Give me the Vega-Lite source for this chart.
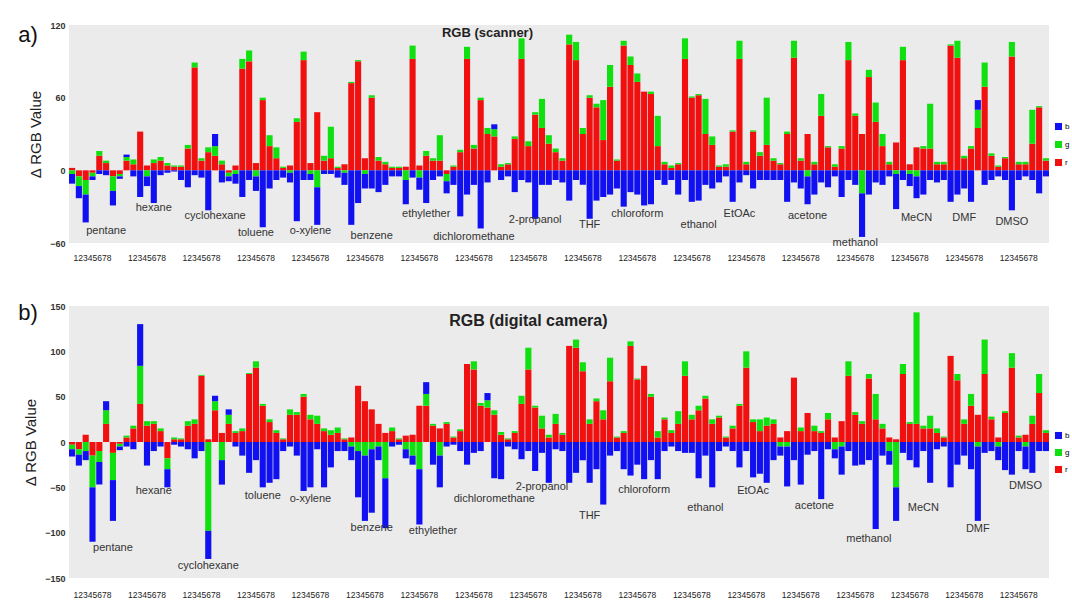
{
"$schema":"https://vega.github.io/schema/vega-lite/v6.json",
"padding":{"left":18,"top":21,"right":0,"bottom":0},
"background":"white",
"spacing":40,
"config":{"view":{"fill":"#ebebeb","stroke":null},"font":"Liberation Sans",
 "axisY":{"domain":false,"ticks":false,"grid":false,"labelFontSize":9,"labelFontWeight":"bold","labelColor":"#333","labelPadding":4,"titleFontSize":15,"titleFontWeight":"normal","titleColor":"#222","titlePadding":6},
 "axisX":{"domain":false,"ticks":false,"grid":false,"labelFontSize":8.5,"labelColor":"#222","labelAngle":0,"labelOverlap":false,"labelDx":3.4,"title":null}},
"resolve":{"scale":{"y":"independent","color":"independent"},"legend":{"color":"independent"}},
"datasets":{
"a":[{"i":0,"r":2,"g":-3,"b":-8},{"i":1,"r":-5,"g":-8,"b":-10},{"i":2,"r":-8,"g":-12,"b":-23},{"i":3,"r":-2,"g":-3,"b":-3},{"i":4,"r":12,"g":4,"b":-3},{"i":5,"r":6,"g":2,"b":-4},{"i":6,"r":-5,"g":-12,"b":-12},{"i":7,"r":-3,"g":-2,"b":-2},
{"i":8,"r":8,"g":3,"b":2},{"i":9,"r":5,"g":4,"b":-5},{"i":10,"r":32,"g":0,"b":-22},{"i":11,"r":4,"g":-5,"b":-8},{"i":12,"r":6,"g":3,"b":-27},{"i":13,"r":8,"g":3,"b":-4},{"i":14,"r":4,"g":2,"b":-2},{"i":15,"r":3,"g":1,"b":-1},
{"i":16,"r":3,"g":1,"b":-8},{"i":17,"r":18,"g":3,"b":-14},{"i":18,"r":85,"g":4,"b":-4},{"i":19,"r":8,"g":2,"b":-6},{"i":20,"r":15,"g":4,"b":-33},{"i":21,"r":12,"g":8,"b":10},{"i":22,"r":5,"g":3,"b":-10},{"i":23,"r":-2,"g":-3,"b":-4},
{"i":24,"r":4,"g":-3,"b":-8},{"i":25,"r":84,"g":8,"b":-22},{"i":26,"r":90,"g":9,"b":-8},{"i":27,"r":6,"g":-5,"b":-12},{"i":28,"r":58,"g":2,"b":-47},{"i":29,"r":20,"g":9,"b":-15},{"i":30,"r":10,"g":9,"b":-8},{"i":31,"r":2,"g":1,"b":-6},
{"i":32,"r":4,"g":-2,"b":-8},{"i":33,"r":40,"g":3,"b":-42},{"i":34,"r":91,"g":7,"b":-8},{"i":35,"r":6,"g":-3,"b":-5},{"i":36,"r":48,"g":-14,"b":-31},{"i":37,"r":8,"g":4,"b":-3},{"i":38,"r":10,"g":26,"b":-3},{"i":39,"r":2,"g":1,"b":-6},
{"i":40,"r":5,"g":-2,"b":-10},{"i":41,"r":72,"g":1,"b":-45},{"i":42,"r":90,"g":1,"b":-27},{"i":43,"r":10,"g":-3,"b":-12},{"i":44,"r":60,"g":2,"b":-15},{"i":45,"r":8,"g":3,"b":-18},{"i":46,"r":5,"g":2,"b":-12},{"i":47,"r":2,"g":1,"b":-5},
{"i":48,"r":2,"g":1,"b":-5},{"i":49,"r":3,"g":-8,"b":-20},{"i":50,"r":92,"g":11,"b":-6},{"i":51,"r":4,"g":-6,"b":-10},{"i":52,"r":12,"g":4,"b":-27},{"i":53,"r":8,"g":2,"b":-8},{"i":54,"r":8,"g":21,"b":-5},{"i":55,"r":-3,"g":-6,"b":-10},
{"i":56,"r":3,"g":1,"b":-12},{"i":57,"r":15,"g":2,"b":-38},{"i":58,"r":92,"g":10,"b":-20},{"i":59,"r":18,"g":3,"b":-12},{"i":60,"r":58,"g":2,"b":-48},{"i":61,"r":30,"g":5,"b":-10},{"i":62,"r":28,"g":6,"b":4},{"i":63,"r":3,"g":2,"b":-8},
{"i":64,"r":5,"g":1,"b":-5},{"i":65,"r":26,"g":2,"b":-18},{"i":66,"r":92,"g":17,"b":-8},{"i":67,"r":20,"g":4,"b":-10},{"i":68,"r":46,"g":2,"b":-40},{"i":69,"r":35,"g":24,"b":-12},{"i":70,"r":22,"g":7,"b":-12},{"i":71,"r":15,"g":3,"b":-8},
{"i":72,"r":8,"g":2,"b":-10},{"i":73,"r":104,"g":8,"b":-25},{"i":74,"r":91,"g":15,"b":-8},{"i":75,"r":30,"g":5,"b":-12},{"i":76,"r":60,"g":2,"b":-40},{"i":77,"r":52,"g":3,"b":-25},{"i":78,"r":25,"g":33,"b":-22},{"i":79,"r":69,"g":18,"b":-20},
{"i":80,"r":8,"g":1,"b":-15},{"i":81,"r":103,"g":4,"b":-30},{"i":82,"r":87,"g":7,"b":-18},{"i":83,"r":73,"g":7,"b":-20},{"i":84,"r":65,"g":0,"b":-29},{"i":85,"r":63,"g":2,"b":-28},{"i":86,"r":20,"g":25,"b":-8},{"i":87,"r":5,"g":2,"b":-12},
{"i":88,"r":2,"g":2,"b":-8},{"i":89,"r":5,"g":1,"b":-20},{"i":90,"r":92,"g":17,"b":-8},{"i":91,"r":60,"g":1,"b":-26},{"i":92,"r":62,"g":1,"b":-25},{"i":93,"r":30,"g":29,"b":-12},{"i":94,"r":21,"g":7,"b":-15},{"i":95,"r":3,"g":1,"b":-10},
{"i":96,"r":3,"g":2,"b":-5},{"i":97,"r":32,"g":1,"b":-26},{"i":98,"r":92,"g":15,"b":-10},{"i":99,"r":5,"g":2,"b":-4},{"i":100,"r":32,"g":1,"b":-15},{"i":101,"r":12,"g":3,"b":-8},{"i":102,"r":21,"g":39,"b":-8},{"i":103,"r":8,"g":2,"b":-8},
{"i":104,"r":5,"g":1,"b":-8},{"i":105,"r":30,"g":2,"b":-26},{"i":106,"r":93,"g":14,"b":-10},{"i":107,"r":8,"g":2,"b":-15},{"i":108,"r":30,"g":-5,"b":-23},{"i":109,"r":5,"g":2,"b":-20},{"i":110,"r":45,"g":18,"b":-10},{"i":111,"r":19,"g":1,"b":-14},
{"i":112,"r":3,"g":2,"b":-5},{"i":113,"r":18,"g":2,"b":-22},{"i":114,"r":91,"g":15,"b":-8},{"i":115,"r":45,"g":2,"b":-12},{"i":116,"r":30,"g":-19,"b":-36},{"i":117,"r":77,"g":6,"b":-20},{"i":118,"r":40,"g":16,"b":-10},{"i":119,"r":20,"g":10,"b":-12},
{"i":120,"r":5,"g":2,"b":-5},{"i":121,"r":23,"g":-3,"b":-29},{"i":122,"r":91,"g":11,"b":-8},{"i":123,"r":5,"g":-3,"b":-10},{"i":124,"r":19,"g":-5,"b":-18},{"i":125,"r":18,"g":2,"b":-20},{"i":126,"r":18,"g":37,"b":-8},{"i":127,"r":5,"g":2,"b":-10},
{"i":128,"r":5,"g":2,"b":-8},{"i":129,"r":103,"g":1,"b":-26},{"i":130,"r":93,"g":14,"b":-20},{"i":131,"r":10,"g":2,"b":-15},{"i":132,"r":18,"g":2,"b":-26},{"i":133,"r":35,"g":15,"b":8},{"i":134,"r":69,"g":20,"b":-12},{"i":135,"r":12,"g":2,"b":-8},
{"i":136,"r":3,"g":1,"b":-5},{"i":137,"r":10,"g":1,"b":-8},{"i":138,"r":94,"g":12,"b":-33},{"i":139,"r":5,"g":2,"b":-8},{"i":140,"r":5,"g":2,"b":-5},{"i":141,"r":22,"g":28,"b":-8},{"i":142,"r":52,"g":1,"b":-19},{"i":143,"r":8,"g":2,"b":-5}],
"b":[{"i":0,"r":-3,"g":-5,"b":-8},{"i":1,"r":-8,"g":-6,"b":-12},{"i":2,"r":8,"g":-10,"b":-10},{"i":3,"r":-15,"g":-35,"b":-60},{"i":4,"r":-10,"g":-12,"b":-25},{"i":5,"r":20,"g":15,"b":10},{"i":6,"r":-12,"g":-30,"b":-45},{"i":7,"r":-2,"g":-3,"b":-4},
{"i":8,"r":5,"g":2,"b":-5},{"i":9,"r":15,"g":3,"b":-8},{"i":10,"r":42,"g":42,"b":46},{"i":11,"r":18,"g":5,"b":-26},{"i":12,"r":20,"g":3,"b":-10},{"i":13,"r":12,"g":3,"b":-5},{"i":14,"r":-18,"g":-12,"b":-20},{"i":15,"r":3,"g":2,"b":-3},
{"i":16,"r":3,"g":1,"b":-5},{"i":17,"r":18,"g":5,"b":-8},{"i":18,"r":20,"g":5,"b":-18},{"i":19,"r":73,"g":1,"b":-10},{"i":20,"r":3,"g":-98,"b":-31},{"i":21,"r":35,"g":10,"b":6},{"i":22,"r":10,"g":-20,"b":-27},{"i":23,"r":20,"g":10,"b":6},
{"i":24,"r":10,"g":2,"b":-5},{"i":25,"r":12,"g":3,"b":-15},{"i":26,"r":75,"g":1,"b":-34},{"i":27,"r":82,"g":7,"b":-20},{"i":28,"r":40,"g":2,"b":-50},{"i":29,"r":22,"g":3,"b":-45},{"i":30,"r":10,"g":3,"b":-41},{"i":31,"r":3,"g":1,"b":-10},
{"i":32,"r":30,"g":6,"b":-5},{"i":33,"r":30,"g":3,"b":-15},{"i":34,"r":50,"g":3,"b":-54},{"i":35,"r":25,"g":5,"b":-50},{"i":36,"r":20,"g":9,"b":-8},{"i":37,"r":12,"g":3,"b":-50},{"i":38,"r":8,"g":5,"b":-28},{"i":39,"r":10,"g":6,"b":-10},
{"i":40,"r":3,"g":1,"b":-10},{"i":41,"r":5,"g":-5,"b":-15},{"i":42,"r":62,"g":-10,"b":-51},{"i":43,"r":45,"g":-15,"b":-72},{"i":44,"r":36,"g":-8,"b":-70},{"i":45,"r":20,"g":-5,"b":-15},{"i":46,"r":10,"g":-40,"b":-55},{"i":47,"r":12,"g":4,"b":-5},
{"i":48,"r":3,"g":1,"b":-3},{"i":49,"r":7,"g":-8,"b":-10},{"i":50,"r":8,"g":-15,"b":-10},{"i":51,"r":40,"g":-30,"b":-61},{"i":52,"r":40,"g":13,"b":13},{"i":53,"r":18,"g":2,"b":-25},{"i":54,"r":15,"g":-15,"b":-35},{"i":55,"r":20,"g":2,"b":-5},
{"i":56,"r":5,"g":1,"b":-3},{"i":57,"r":12,"g":2,"b":-10},{"i":58,"r":86,"g":0,"b":-25},{"i":59,"r":80,"g":9,"b":-12},{"i":60,"r":40,"g":3,"b":-10},{"i":61,"r":38,"g":8,"b":8},{"i":62,"r":30,"g":5,"b":-40},{"i":63,"r":8,"g":3,"b":-41},
{"i":64,"r":3,"g":1,"b":-5},{"i":65,"r":10,"g":2,"b":-8},{"i":66,"r":42,"g":9,"b":-19},{"i":67,"r":80,"g":24,"b":-10},{"i":68,"r":38,"g":2,"b":-32},{"i":69,"r":15,"g":14,"b":-12},{"i":70,"r":5,"g":3,"b":-45},{"i":71,"r":20,"g":11,"b":-8},
{"i":72,"r":8,"g":2,"b":-10},{"i":73,"r":106,"g":0,"b":-45},{"i":74,"r":104,"g":9,"b":-34},{"i":75,"r":78,"g":10,"b":-20},{"i":76,"r":20,"g":5,"b":-45},{"i":77,"r":45,"g":3,"b":-30},{"i":78,"r":25,"g":10,"b":-69},{"i":79,"r":67,"g":26,"b":-15},
{"i":80,"r":5,"g":1,"b":-10},{"i":81,"r":10,"g":2,"b":-30},{"i":82,"r":106,"g":5,"b":-37},{"i":83,"r":69,"g":1,"b":-25},{"i":84,"r":84,"g":0,"b":-41},{"i":85,"r":50,"g":3,"b":-20},{"i":86,"r":5,"g":7,"b":-41},{"i":87,"r":25,"g":2,"b":-10},
{"i":88,"r":10,"g":3,"b":-5},{"i":89,"r":20,"g":14,"b":-10},{"i":90,"r":73,"g":16,"b":-12},{"i":91,"r":25,"g":5,"b":-12},{"i":92,"r":35,"g":5,"b":-40},{"i":93,"r":48,"g":3,"b":-15},{"i":94,"r":20,"g":5,"b":-50},{"i":95,"r":27,"g":2,"b":-10},
{"i":96,"r":5,"g":1,"b":-5},{"i":97,"r":15,"g":3,"b":-10},{"i":98,"r":40,"g":2,"b":-28},{"i":99,"r":82,"g":18,"b":-10},{"i":100,"r":22,"g":3,"b":-39},{"i":101,"r":12,"g":13,"b":-35},{"i":102,"r":18,"g":9,"b":-45},{"i":103,"r":20,"g":5,"b":-20},
{"i":104,"r":5,"g":-5,"b":-10},{"i":105,"r":12,"g":-5,"b":-44},{"i":106,"r":71,"g":0,"b":-20},{"i":107,"r":12,"g":4,"b":-47},{"i":108,"r":32,"g":0,"b":-14},{"i":109,"r":12,"g":6,"b":-10},{"i":110,"r":10,"g":2,"b":-63},{"i":111,"r":25,"g":7,"b":-8},
{"i":112,"r":5,"g":-8,"b":-10},{"i":113,"r":23,"g":-5,"b":-31},{"i":114,"r":73,"g":16,"b":-10},{"i":115,"r":30,"g":3,"b":-26},{"i":116,"r":20,"g":3,"b":-25},{"i":117,"r":70,"g":5,"b":-20},{"i":118,"r":25,"g":28,"b":-96},{"i":119,"r":15,"g":5,"b":-15},
{"i":120,"r":5,"g":-10,"b":-15},{"i":121,"r":3,"g":-50,"b":-37},{"i":122,"r":75,"g":11,"b":-12},{"i":123,"r":20,"g":2,"b":-20},{"i":124,"r":20,"g":123,"b":-28},{"i":125,"r":15,"g":3,"b":-10},{"i":126,"r":15,"g":14,"b":-45},{"i":127,"r":10,"g":5,"b":-8},
{"i":128,"r":5,"g":1,"b":-5},{"i":129,"r":95,"g":0,"b":-50},{"i":130,"r":68,"g":7,"b":-25},{"i":131,"r":20,"g":5,"b":-15},{"i":132,"r":40,"g":13,"b":-30},{"i":133,"r":30,"g":-5,"b":-82},{"i":134,"r":75,"g":38,"b":-12},{"i":135,"r":25,"g":3,"b":-10},
{"i":136,"r":5,"g":-5,"b":-15},{"i":137,"r":32,"g":2,"b":-31},{"i":138,"r":82,"g":16,"b":-36},{"i":139,"r":5,"g":2,"b":-10},{"i":140,"r":8,"g":-5,"b":-25},{"i":141,"r":20,"g":9,"b":-34},{"i":142,"r":54,"g":21,"b":-10},{"i":143,"r":10,"g":3,"b":-10}],
"la":[{"i":5,"y":-50,"t":"pentane"},{"i":12,"y":-31,"t":"hexane"},{"i":21,"y":-38,"t":"cyclohexane"},{"i":27,"y":-52,"t":"toluene"},{"i":35,"y":-50,"t":"o-xylene"},{"i":44,"y":-54,"t":"benzene"},{"i":52,"y":-36,"t":"ethylether"},{"i":59,"y":-55,"t":"dichloromethane"},{"i":68,"y":-41,"t":"2-propanol"},{"i":76,"y":-45,"t":"THF"},{"i":83,"y":-36,"t":"chloroform"},{"i":92,"y":-45,"t":"ethanol"},{"i":98,"y":-36,"t":"EtOAc"},{"i":108,"y":-38,"t":"acetone"},{"i":115,"y":-60,"t":"methanol"},{"i":124,"y":-39,"t":"MeCN"},{"i":131,"y":-39,"t":"DMF"},{"i":138,"y":-43,"t":"DMSO"}],
"lb":[{"i":6,"y":-117,"t":"pentane"},{"i":12,"y":-54,"t":"hexane"},{"i":20,"y":-137,"t":"cyclohexane"},{"i":28,"y":-60,"t":"toluene"},{"i":35,"y":-63,"t":"o-xylene"},{"i":44,"y":-95,"t":"benzene"},{"i":53,"y":-98,"t":"ethylether"},{"i":62,"y":-63,"t":"dichloromethane"},{"i":69,"y":-50,"t":"2-propanol"},{"i":76,"y":-82,"t":"THF"},{"i":84,"y":-53,"t":"chloroform"},{"i":93,"y":-73,"t":"ethanol"},{"i":100,"y":-54,"t":"EtOAc"},{"i":109,"y":-71,"t":"acetone"},{"i":117,"y":-107,"t":"methanol"},{"i":125,"y":-73,"t":"MeCN"},{"i":133,"y":-96,"t":"DMF"},{"i":140,"y":-49,"t":"DMSO"}]
},
"vconcat":[
{"width":980,"height":218,
 "layer":[
  {"data":{"name":"a"},"transform":[{"fold":["r","g","b"],"as":["c","v"]}],
   "mark":{"type":"bar"},
   "encoding":{
    "x":{"field":"i","type":"ordinal","scale":{"paddingInner":0.1,"paddingOuter":0},"axis":{"labelExpr":"datum.value % 8 == 3 ? '12345678' : ''","labelPadding":10}},
    "y":{"field":"v","type":"quantitative","stack":"zero","scale":{"domain":[-60,120],"nice":false},"axis":{"values":[-60,-30,0,30,60,90,120],"title":"Δ RGB Value"}},
    "color":{"field":"c","type":"nominal","scale":{"domain":["b","g","r"],"range":["#1010f0","#10e010","#f01010"]},"legend":{"orient":"none","legendX":985,"legendY":97,"title":null,"symbolType":"square","symbolSize":50,"labelFontSize":8,"labelOffset":2,"rowPadding":9,"padding":0}},
    "order":{"field":"c","sort":"descending"}}},
  {"data":{"name":"la"},"mark":{"type":"text","fontSize":11,"color":"#333"},
   "encoding":{"x":{"field":"i","type":"ordinal"},"y":{"field":"y","type":"quantitative"},"text":{"field":"t"}}},
  {"data":{"values":[{"i":61,"y":113,"t":"RGB (scanner)"}]},"mark":{"type":"text","fontSize":13,"fontWeight":"bold","color":"#222"},
   "encoding":{"x":{"field":"i","type":"ordinal"},"y":{"field":"y","type":"quantitative"},"text":{"field":"t"}}},
  {"data":{"values":[{"i":0,"y":112,"t":"a)"}]},"mark":{"type":"text","fontSize":22,"dx":-44,"color":"#111"},
   "encoding":{"x":{"field":"i","type":"ordinal"},"y":{"field":"y","type":"quantitative"},"text":{"field":"t"}}}
 ]},
{"width":980,"height":272,
 "layer":[
  {"data":{"name":"b"},"transform":[{"fold":["r","g","b"],"as":["c","v"]}],
   "mark":{"type":"bar"},
   "encoding":{
    "x":{"field":"i","type":"ordinal","scale":{"paddingInner":0.1,"paddingOuter":0},"axis":{"labelExpr":"datum.value % 8 == 3 ? '12345678' : ''","labelPadding":12}},
    "y":{"field":"v","type":"quantitative","stack":"zero","scale":{"domain":[-150,150],"nice":false},"axis":{"values":[-150,-100,-50,0,50,100,150],"title":"Δ RGB Value"}},
    "color":{"field":"c","type":"nominal","scale":{"domain":["b","g","r"],"range":["#1010f0","#10e010","#f01010"]},"legend":{"orient":"none","legendX":985,"legendY":125,"title":null,"symbolType":"square","symbolSize":50,"labelFontSize":8,"labelOffset":2,"rowPadding":8,"padding":0}},
    "order":{"field":"c","sort":"descending"}}},
  {"data":{"name":"lb"},"mark":{"type":"text","fontSize":11,"color":"#333"},
   "encoding":{"x":{"field":"i","type":"ordinal"},"y":{"field":"y","type":"quantitative"},"text":{"field":"t"}}},
  {"data":{"values":[{"i":67,"y":133,"t":"RGB (digital camera)"}]},"mark":{"type":"text","fontSize":16,"fontWeight":"bold","color":"#222"},
   "encoding":{"x":{"field":"i","type":"ordinal"},"y":{"field":"y","type":"quantitative"},"text":{"field":"t"}}},
  {"data":{"values":[{"i":0,"y":142,"t":"b)"}]},"mark":{"type":"text","fontSize":22,"dx":-44,"color":"#111"},
   "encoding":{"x":{"field":"i","type":"ordinal"},"y":{"field":"y","type":"quantitative"},"text":{"field":"t"}}}
 ]}
]
}
